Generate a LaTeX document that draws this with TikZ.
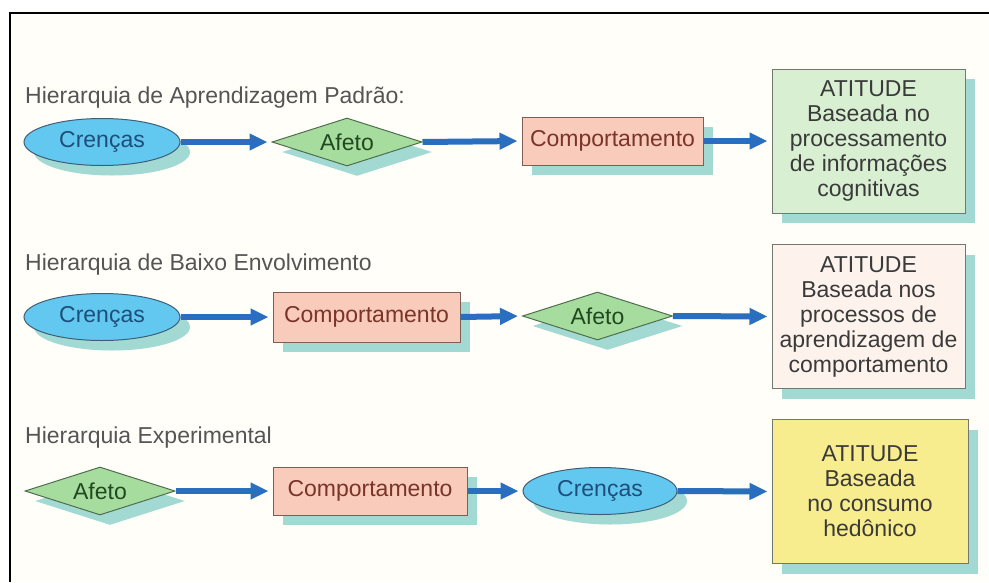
\documentclass[tikz,border=0pt]{standalone}
\usepackage{fontspec}
\setmainfont{Liberation Sans}
\usetikzlibrary{shapes.geometric,arrows.meta,shadows}
\definecolor{bgc}{HTML}{FFFEF8}
\definecolor{shc}{HTML}{A3D9D3}
\definecolor{ellf}{HTML}{62C8EF}
\definecolor{elld}{HTML}{3F5F78}
\definecolor{ellt}{HTML}{1D4E7C}
\definecolor{diaf}{HTML}{A6DC9E}
\definecolor{diad}{HTML}{4E6E4E}
\definecolor{diat}{HTML}{21491F}
\definecolor{recf}{HTML}{F8CBBB}
\definecolor{recd}{HTML}{7E5E54}
\definecolor{rect}{HTML}{7A3428}
\definecolor{boxa}{HTML}{D9EFD2}
\definecolor{boxb}{HTML}{FDF3EC}
\definecolor{boxc}{HTML}{F8ED8E}
\definecolor{boxd}{HTML}{707870}
\definecolor{boxt}{HTML}{3A3A3A}
\definecolor{arrc}{HTML}{2A6EBF}
\definecolor{titc}{HTML}{555555}
\tikzset{
  sh/.style={drop shadow={shadow xshift=10pt,shadow yshift=-10pt,fill=shc,opacity=1}},
  txt/.style={font=\fontsize{23}{25}\selectfont},
  crenca/.style={ellipse,draw=elld,line width=1pt,fill=ellf,text=ellt,txt,
    minimum width=156pt,minimum height=47pt,inner sep=0pt,sh},
  afeto/.style={diamond,shape aspect=3.1,draw=diad,line width=1pt,fill=diaf,text=diat,txt,
    minimum width=150pt,minimum height=48pt,inner sep=0pt,sh},
  comport/.style={rectangle,draw=recd,line width=1pt,fill=recf,text=rect,txt,
    minimum height=48pt,inner sep=0pt,sh},
  atit/.style={rectangle,draw=boxd,line width=1pt,text=boxt,txt,align=center,
    minimum width=193pt,minimum height=144pt,inner sep=0pt,sh},
  titulo/.style={anchor=base west,text=titc,txt,inner sep=0pt},
  seta/.style={draw=arrc,line width=6pt,-{Triangle[length=18pt,width=16pt]},shorten >=4pt}
}
\begin{document}
\begin{tikzpicture}[x=1pt,y=-1pt]
\useasboundingbox (0,0) rectangle (989,582);
\fill[white] (0,0) rectangle (989,582);
\fill[bgc] (10,13) rectangle (989,582);
\draw[line width=2pt,black] (10,582) -- (10,13) -- (989,13);

% Row 1
\node[titulo] (h1) at (25,103) {Hierarquia de Aprendizagem Padrão:};
\node[crenca] (c1) at (102,142) {Crenças};
\node[afeto] (a1) at (347,142) {Afeto};
\node[comport,minimum width=181pt] (b1) at (612.5,141) {Comportamento};
\node[atit,fill=boxa] (t1) at (868.5,141) {ATITUDE\\Baseada no\\processamento\\de informações\\cognitivas};
\draw[seta] (c1.east) -- (a1.west);
\draw[seta] (a1.east) -- (b1.west);
\draw[seta] (b1.east) -- (t1.west);

% Row 2
\node[titulo] (h2) at (25,270) {Hierarquia de Baixo Envolvimento};
\node[crenca] (c2) at (102,317) {Crenças};
\node[comport,minimum width=187pt,minimum height=50pt] (b2) at (366.5,317) {Comportamento};
\node[afeto] (a2) at (597.5,316) {Afeto};
\node[atit,fill=boxb] (t2) at (868.5,316.5) {ATITUDE\\Baseada nos\\processos de\\aprendizagem de\\comportamento};
\draw[seta] (c2.east) -- (b2.west);
\draw[seta] (b2.east) -- (a2.west);
\draw[seta] (a2.east) -- (t2.west);

% Row 3
\node[titulo] (h3) at (25,443) {Hierarquia Experimental};
\node[afeto] (a3) at (100,491) {Afeto};
\node[comport,minimum width=194pt] (b3) at (370,491) {Comportamento};
\node[crenca,minimum width=154pt] (c3) at (600,491) {Crenças};
\node[atit,fill=boxc,minimum width=196pt] (t3) at (870,491.5) {ATITUDE\\Baseada\\no consumo\\hedônico};
\draw[seta] (a3.east) -- (b3.west);
\draw[seta] (b3.east) -- (c3.west);
\draw[seta] (c3.east) -- (t3.west);
\end{tikzpicture}
\end{document}
